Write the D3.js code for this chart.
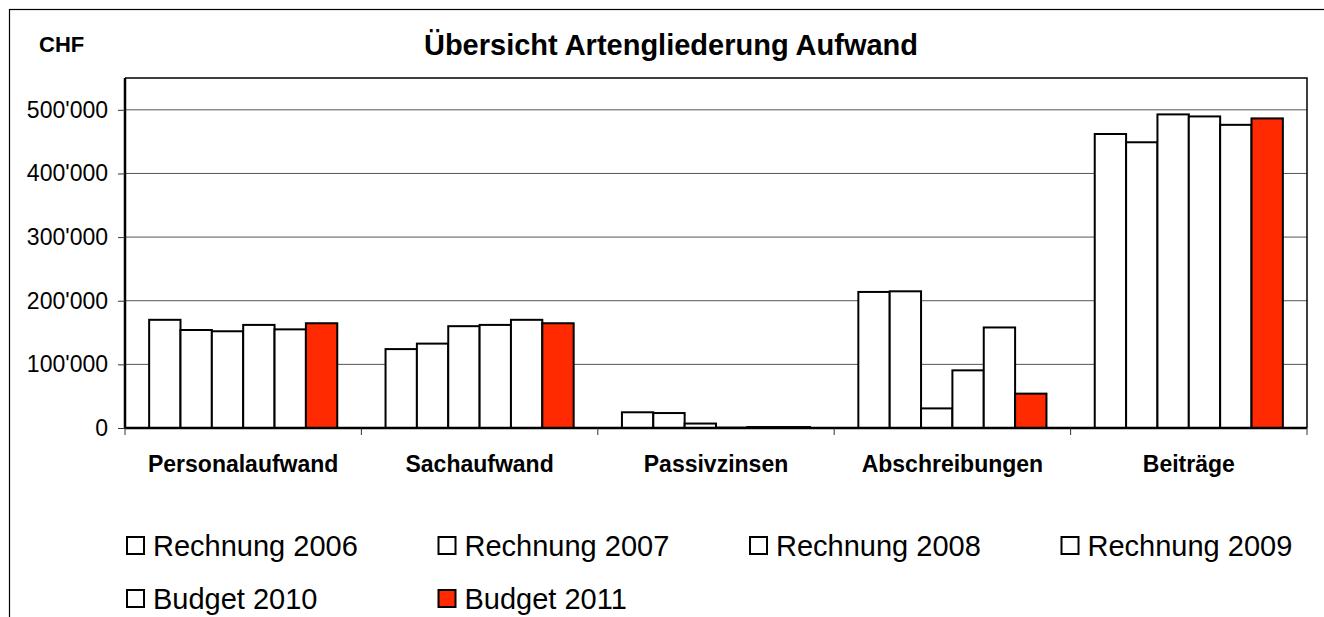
<!DOCTYPE html>
<html>
<head>
<meta charset="utf-8">
<script src="https://cdn.jsdelivr.net/npm/d3@7"></script>
<style>
    body { margin: 0; background: #fff; }
    text { font-family: Arial, "Liberation Sans", sans-serif; fill: #000; }
</style>
</head>
<body>
<script>
// Data
var categories = ["Personalaufwand", "Sachaufwand", "Passivzinsen", "Abschreibungen", "Beiträge"];
var seriesNames = ["Rechnung 2006", "Rechnung 2007", "Rechnung 2008", "Rechnung 2009", "Budget 2010", "Budget 2011"];
var rechnung2006 = [170000, 124000, 24700, 213800, 462000];
var rechnung2007 = [154000, 132600, 23500, 214800, 449000];
var rechnung2008 = [152000, 160000, 7000, 30800, 492800];
var rechnung2009 = [162000, 162000, 500, 90600, 489600];
var budget2010 = [155000, 170000, 1500, 158000, 476400];
var budget2011 = [164600, 164600, 1500, 54000, 486500];
var yTicks = [0, 100000, 200000, 300000, 400000, 500000];

var seriesValues = [rechnung2006, rechnung2007, rechnung2008, rechnung2009, budget2010, budget2011];
var seriesColors = ["#fff", "#fff", "#fff", "#fff", "#fff", "#ff2a00"];

var width = 1324, height = 617;
var plot = { left: 125, top: 78, right: 1307, bottom: 428 };

var svg = d3.select("body").append("svg")
    .attr("width", width)
    .attr("height", height);

// outer frame (only left and top edges visible)
svg.append("rect")
    .attr("x", 9.5).attr("y", 9.5)
    .attr("width", 1340).attr("height", 640)
    .attr("fill", "none").attr("stroke", "#000").attr("stroke-width", 1.2);

var x0 = d3.scaleBand()
    .domain(categories)
    .range([plot.left, plot.right])
    .paddingInner(0).paddingOuter(0);

var x1 = d3.scaleBand()
    .domain(d3.range(seriesNames.length))
    .range([0, x0.bandwidth()])
    .paddingInner(0).paddingOuter(0.77);

var y = d3.scaleLinear()
    .domain([0, 550000])
    .range([plot.bottom, plot.top]);

// gridlines
svg.append("g")
    .selectAll("line")
    .data(yTicks.slice(1))
    .enter().append("line")
    .attr("x1", plot.left).attr("x2", plot.right)
    .attr("y1", function (d) { return y(d); })
    .attr("y2", function (d) { return y(d); })
    .attr("stroke", "#555").attr("stroke-width", 1);

// plot frame top + right
svg.append("path")
    .attr("d", "M" + plot.left + "," + plot.top + "H" + plot.right + "V" + plot.bottom)
    .attr("fill", "none").attr("stroke", "#000").attr("stroke-width", 1.5);

// bars
var groups = svg.append("g")
    .selectAll("g")
    .data(categories)
    .enter().append("g")
    .attr("transform", function (d) { return "translate(" + x0(d) + ",0)"; });

groups.selectAll("rect")
    .data(function (d, i) {
        return seriesValues.map(function (s, j) { return { s: j, v: s[i] }; });
    })
    .enter().append("rect")
    .attr("x", function (d) { return x1(d.s); })
    .attr("width", x1.bandwidth())
    .attr("y", function (d) { return y(d.v); })
    .attr("height", function (d) { return plot.bottom - y(d.v); })
    .attr("fill", function (d) { return seriesColors[d.s]; })
    .attr("stroke", "#000").attr("stroke-width", 2);

// y axis
var yAxis = svg.append("g")
    .attr("transform", "translate(" + plot.left + ",0)")
    .call(d3.axisLeft(y).tickValues(yTicks).tickSize(7).tickPadding(10)
        .tickFormat(function (d) { return d3.format(",")(d).replace(/,/g, "'"); }));
yAxis.select(".domain").attr("stroke", "#000").attr("stroke-width", 2.5)
    .attr("d", "M0," + plot.top + "V" + (plot.bottom + 1));
yAxis.selectAll(".tick line").attr("stroke", "#333");
yAxis.selectAll("text").attr("font-size", 23).attr("font-family", "Arial, 'Liberation Sans', sans-serif");

// x axis baseline and boundary ticks
svg.append("line")
    .attr("x1", plot.left).attr("x2", plot.right)
    .attr("y1", plot.bottom).attr("y2", plot.bottom)
    .attr("stroke", "#000").attr("stroke-width", 2.5);

var bounds = categories.map(function (c) { return x0(c); }).concat([plot.right]);
svg.append("g")
    .selectAll("line")
    .data(bounds)
    .enter().append("line")
    .attr("x1", function (d) { return d; }).attr("x2", function (d) { return d; })
    .attr("y1", plot.bottom).attr("y2", plot.bottom + 7)
    .attr("stroke", "#333").attr("stroke-width", 1);

svg.append("g")
    .selectAll("text")
    .data(categories)
    .enter().append("text")
    .attr("x", function (d) { return x0(d) + x0.bandwidth() / 2; })
    .attr("y", 472)
    .attr("text-anchor", "middle")
    .attr("font-size", 23).attr("font-weight", "bold")
    .text(function (d) { return d; });

// titles
svg.append("text")
    .attr("x", 671).attr("y", 55)
    .attr("text-anchor", "middle")
    .attr("font-size", 29).attr("font-weight", "bold")
    .text("Übersicht Artengliederung Aufwand");

svg.append("text")
    .attr("x", 39).attr("y", 52)
    .attr("font-size", 22).attr("font-weight", "bold")
    .text("CHF");

// legend
var legend = svg.append("g")
    .selectAll("g")
    .data(seriesNames)
    .enter().append("g")
    .attr("transform", function (d, i) {
        return "translate(" + (127 + (i % 4) * 311.5) + "," + (546 + Math.floor(i / 4) * 53) + ")";
    });

legend.append("rect")
    .attr("x", 0).attr("y", -9)
    .attr("width", 17).attr("height", 17)
    .attr("fill", function (d, i) { return seriesColors[i]; })
    .attr("stroke", "#000").attr("stroke-width", 2);

legend.append("text")
    .attr("x", 26).attr("y", 0)
    .attr("dy", "0.36em")
    .attr("font-size", 29)
    .text(function (d) { return d; });
</script>
</body>
</html>
